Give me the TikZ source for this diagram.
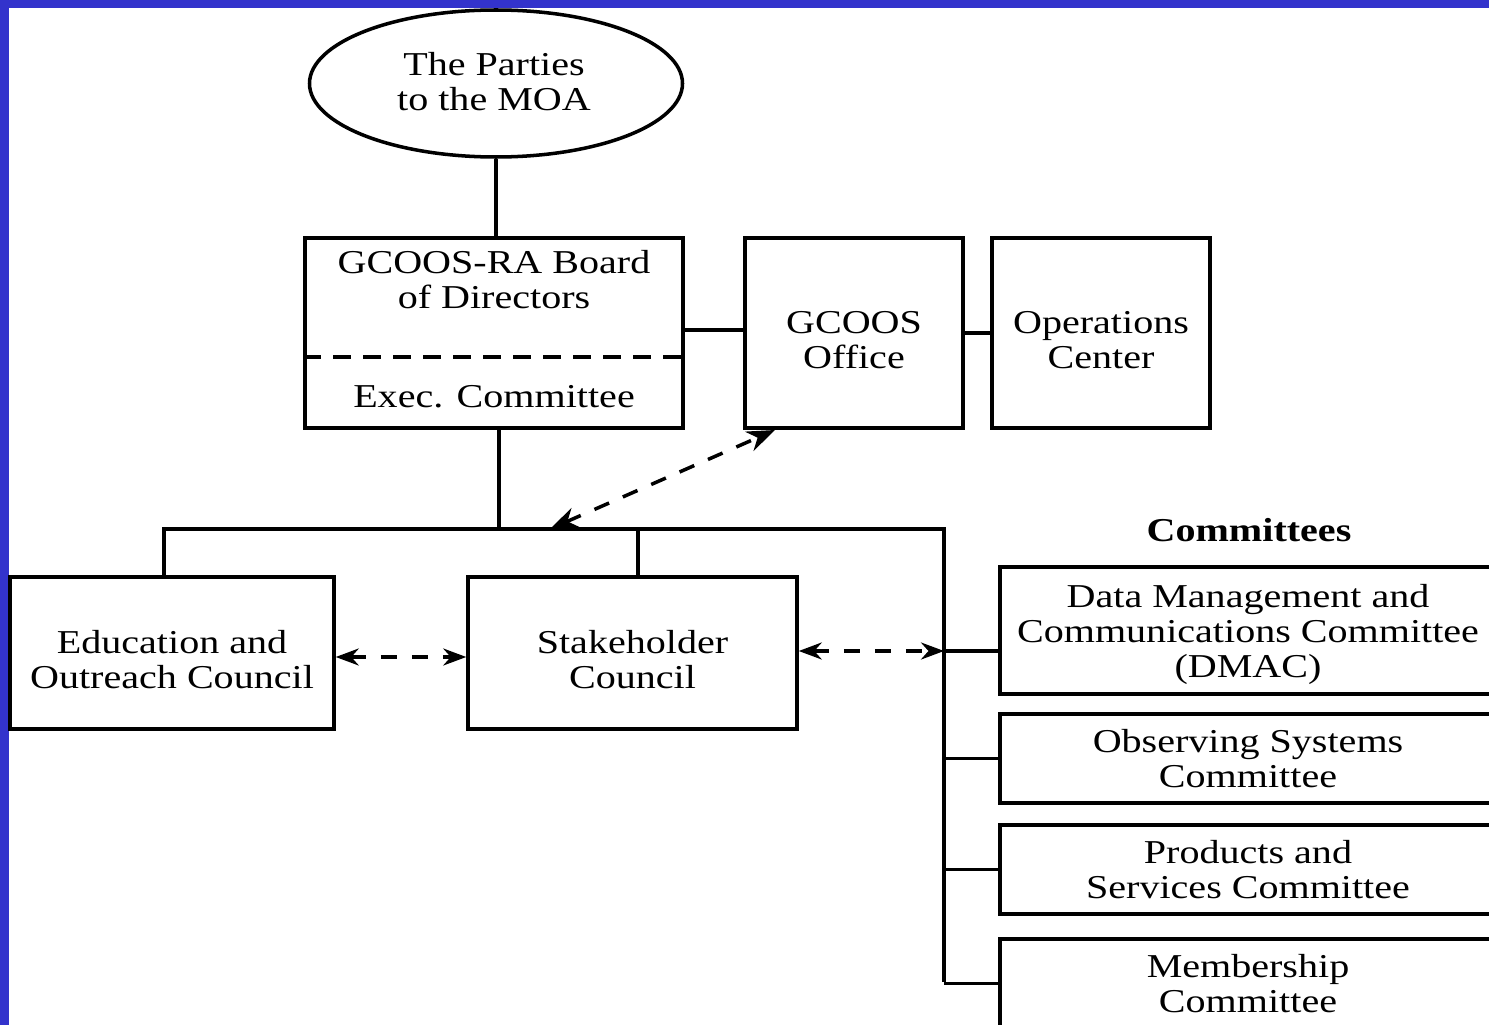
\documentclass[tikz,border=0pt]{standalone}
\usepackage{fontspec}
\setmainfont{Liberation Serif}[FakeStretch=1.2]
\usepackage{tikz}
\usetikzlibrary{shapes,arrows.meta,positioning}
\definecolor{frameblue}{RGB}{51,51,204}
\newcommand{\lowstrut}{\rule{0pt}{0.72cm}}
\tikzset{
  box/.style={draw=black, line width=2pt, rectangle, align=center, inner sep=0pt,
    font=\fontsize{19}{20}\selectfont},
  txt/.style={align=center, inner sep=0pt, font=\fontsize{19}{20}\selectfont},
  link/.style={black, line width=2pt},
  twoway/.style={black, line width=2pt, dash pattern=on 0.32cm off 0.3cm,
    {Stealth[length=0.46cm,width=0.34cm,inset=0.15cm]}-{Stealth[length=0.46cm,width=0.34cm,inset=0.15cm]}},
  bigtwoway/.style={twoway,
    {Stealth[length=0.56cm,width=0.42cm,inset=0.18cm]}-{Stealth[length=0.56cm,width=0.42cm,inset=0.18cm]}}
}

\begin{document}
\begin{tikzpicture}
\useasboundingbox (0,0) rectangle (29.78,-20.5);
\fill [white] (0,0) rectangle (29.78,-20.5);
\fill [frameblue] (0,0) rectangle (0.18,-20.5);
\fill [frameblue] (0,0) rectangle (29.78,-0.16);
\clip (0,0) rectangle (29.78,-20.5);

\node [box, ellipse, minimum width=7.46cm, minimum height=2.94cm] (moa) at (9.92,-1.67) {};
\node [txt] (moatxt) at (9.88,-1.64) {The Parties\\to the MOA};

\node [box, minimum width=7.56cm, minimum height=3.8cm] (board) at (9.88,-6.66) {};
\node [txt] (boardtxt) at (9.88,-5.6) {GCOOS-RA Board\\of Directors};
\node [txt] (exec) at (9.88,-7.94) {Exec. Committee};
\draw [link, dash pattern=on 0.36cm off 0.24cm] (board.west |- 0,-7.14) -- (board.east |- 0,-7.14);

\node [box, minimum width=4.36cm, minimum height=3.8cm] (office) at (17.08,-6.66) {\lowstrut GCOOS\\Office};
\node [box, minimum width=4.36cm, minimum height=3.8cm] (ops) at (22.02,-6.66) {\lowstrut Operations\\Center};

\node [box, minimum width=6.48cm, minimum height=3.04cm] (edu) at (3.44,-13.06) {\lowstrut Education and\\Outreach Council};
\node [box, minimum width=6.58cm, minimum height=3.04cm] (stake) at (12.65,-13.06) {\lowstrut Stakeholder\\Council};

\node [txt, font=\fontsize{19}{20}\selectfont\bfseries] (cttees) at (24.98,-10.6) {Committees};
\node [box, minimum width=9.92cm, minimum height=2.54cm] (dmac) at (24.96,-12.61) {\rule{0pt}{0.62cm}Data Management and\\Communications Committee\\(DMAC)};
\node [box, minimum width=9.92cm, minimum height=1.78cm] (obs) at (24.96,-15.17) {Observing Systems\\Committee};
\node [box, minimum width=9.92cm, minimum height=1.78cm] (prod) at (24.96,-17.39) {Products and\\Services Committee};
\node [box, minimum width=9.92cm, minimum height=1.78cm] (member) at (24.96,-19.67) {Membership\\Committee};

\coordinate (busmid) at (9.98,-10.58);
\coordinate (busleft) at (3.28,-10.58);
\coordinate (busstake) at (12.76,-10.58);
\coordinate (busright) at (18.88,-10.58);
\coordinate (busend) at (18.88,-19.64);
\coordinate (busdmac) at (18.88,-13.02);
\coordinate (busarrow) at (11.0,-10.58);
\coordinate (officetip) at (15.5,-8.6);

\draw [link] (moa.south) -- (moa.south |- board.north);
\draw [link] (board.east |- 0,-6.6) -- (office.west |- 0,-6.6);
\draw [link] (office.east) -- (ops.west);
\draw [link] (busmid |- board.south) -- (busmid);
\draw [link] (busleft |- edu.north) -- (busleft) -- (busright) -- (busend);
\draw [link] (busstake) -- (busstake |- stake.north);
\draw [link] (busdmac) -- (busdmac -| dmac.west);
\foreach \c in {obs,prod,member}
  \draw [link] (busright |- \c.west) -- (\c.west);

\draw [twoway] (edu.east |- 0,-13.14) -- (stake.west |- 0,-13.14);
\draw [twoway] (stake.east |- busdmac) -- (busdmac);
\draw [bigtwoway] (busarrow) -- (officetip);
\end{tikzpicture}
\end{document}
